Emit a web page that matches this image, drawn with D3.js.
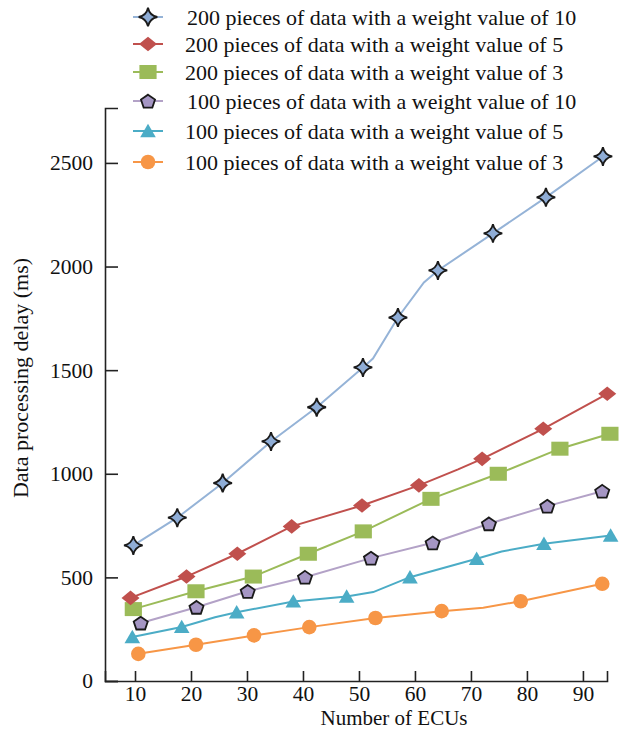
<!DOCTYPE html>
<html>
<head>
<meta charset="utf-8">
<script src="https://cdn.jsdelivr.net/npm/d3@7"></script>
<style>
  body { margin: 0; background: #fff; }
  svg text { font-family: "Times New Roman", "Liberation Serif", serif; fill: #111; }
</style>
</head>
<body>
<div id="chart"></div>
<script>
// x = number of ECUs, y = delay in ms, mark = 1 where a symbol is drawn
let s1x = [9.7, 17.55, 25.66, 34.29, 42.45, 50.71, 52.5, 56.96, 61.6, 64.1, 73.93, 83.39, 93.57];
let s1y = [654, 788, 955, 1156, 1321, 1513, 1556, 1754, 1923, 1981, 2160, 2334, 2531];
let s1m = [1, 1, 1, 1, 1, 1, 0, 1, 0, 1, 1, 1, 1];

let s2x = [9.2, 19.2, 28.27, 37.98, 50.54, 60.71, 67.7, 72.0, 82.91, 94.34];
let s2y = [401, 504, 614, 746, 847, 944, 1021, 1072, 1217, 1386];
let s2m = [1, 1, 1, 1, 1, 1, 0, 1, 1, 1];

let s3x = [9.7, 20.89, 31.13, 40.95, 50.77, 62.86, 74.88, 85.89, 94.82];
let s3y = [347, 433, 504, 614, 722, 879, 1000, 1121, 1193];
let s3m = [1, 1, 1, 1, 1, 1, 1, 1, 1];

let s4x = [11.02, 20.98, 30.13, 40.36, 52.14, 63.16, 73.21, 83.63, 93.45];
let s4y = [280, 356, 433, 501, 593, 667, 759, 844, 916];
let s4m = [1, 1, 1, 1, 1, 1, 1, 1, 1];

let s5x = [9.52, 18.34, 24.29, 28.16, 38.27, 47.8, 52.55, 59.11, 71.02, 75.48, 83.04, 94.95];
let s5y = [212, 261, 308, 332, 384, 408, 429, 501, 590, 625, 662, 702];
let s5m = [1, 1, 0, 1, 1, 1, 0, 1, 1, 0, 1, 1];

let s6x = [10.59, 20.89, 31.25, 41.13, 52.95, 64.77, 72.2, 78.88, 93.45];
let s6y = [131, 175, 220, 260, 304, 337, 353, 385, 469];
let s6m = [1, 1, 1, 1, 1, 1, 0, 1, 1];

let seriesNames = [
  "200 pieces of data with a weight value of 10",
  "200 pieces of data with a weight value of 5",
  "200 pieces of data with a weight value of 3",
  "100 pieces of data with a weight value of 10",
  "100 pieces of data with a weight value of 5",
  "100 pieces of data with a weight value of 3"
];
let xTicks = [10, 20, 30, 40, 50, 60, 70, 80, 90];
let yTicks = [0, 500, 1000, 1500, 2000, 2500];

let width = 635, height = 734;
let serif = "'Times New Roman', 'Liberation Serif', serif";

// marker shapes
function starPath() {
  let r = 9.3, c = 1.6;
  return "M0," + (-r) +
    "Q" + c + "," + (-c) + " " + r + ",0" +
    "Q" + c + "," + c + " 0," + r +
    "Q" + (-c) + "," + c + " " + (-r) + ",0" +
    "Q" + (-c) + "," + (-c) + " 0," + (-r) + "Z";
}
function pentagonPath() {
  let pts = [];
  for (let i = 0; i < 5; i++) {
    let a = i * 2 * Math.PI / 5 - Math.PI / 2;
    pts.push([7.4 * Math.cos(a), 7.1 * Math.sin(a) + 0.8]);
  }
  return "M" + pts.map(p => p.join(",")).join("L") + "Z";
}
let shapes = [
  starPath(),
  "M-9,0L0,-7.3L9,0L0,7.3Z",
  "M-8.6,-7H8.6V7H-8.6Z",
  pentagonPath(),
  "M0,-7.2L7.8,6.2H-7.8Z",
  d3.symbol().type(d3.symbolCircle).size(Math.PI * 7.3 * 7.3)()
];

let series = [
  {x: s1x, y: s1y, m: s1m, line: "#95b3d7", fill: "#8fadd6", stroke: "#1a1a1a"},
  {x: s2x, y: s2y, m: s2m, line: "#c0504d", fill: "#c0504d", stroke: "none"},
  {x: s3x, y: s3y, m: s3m, line: "#9bbb59", fill: "#9bbb59", stroke: "none"},
  {x: s4x, y: s4y, m: s4m, line: "#b3a2c7", fill: "#a596c4", stroke: "#1a1a1a"},
  {x: s5x, y: s5y, m: s5m, line: "#4bacc6", fill: "#4bacc6", stroke: "none"},
  {x: s6x, y: s6y, m: s6m, line: "#f79646", fill: "#f79646", stroke: "none"}
];

let svg = d3.select("#chart").append("svg")
  .attr("width", width)
  .attr("height", height);

let xScale = d3.scaleLinear().domain([4.64, 94.3]).range([105, 607]);
let yScale = d3.scaleLinear().domain([0, 2765]).range([681, 108]);

let xAxis = d3.axisBottom(xScale)
  .tickValues(xTicks)
  .tickFormat(d3.format("d"))
  .tickSizeInner(-10)
  .tickSizeOuter(-10)
  .tickPadding(5);

let yAxis = d3.axisLeft(yScale)
  .tickValues(yTicks)
  .tickFormat(d3.format("d"))
  .tickSizeInner(-13)
  .tickSizeOuter(-13)
  .tickPadding(12);

let gx = svg.append("g")
  .attr("transform", "translate(0,681)")
  .call(xAxis);
let gy = svg.append("g")
  .attr("transform", "translate(105,0)")
  .call(yAxis);

[gx, gy].forEach(g => {
  g.attr("font-family", serif).attr("font-size", 21.5);
  g.selectAll("path, line").attr("stroke", "#222").attr("stroke-width", 1.6);
  g.selectAll("text").attr("fill", "#111");
});

svg.append("text")
  .attr("x", 394)
  .attr("y", 725)
  .attr("text-anchor", "middle")
  .attr("font-size", 21)
  .text("Number of ECUs");

svg.append("text")
  .attr("transform", "translate(28,378) rotate(-90)")
  .attr("text-anchor", "middle")
  .attr("font-size", 22)
  .text("Data processing delay (ms)");

let line = d3.line()
  .x(d => xScale(d[0]))
  .y(d => yScale(d[1]));

// draw from the bottom series up so the stars sit on top
series.slice().reverse().forEach(s => {
  let pts = s.x.map((v, i) => [v, s.y[i], s.m[i]]);
  let idx = series.indexOf(s);
  svg.append("path")
    .datum(pts)
    .attr("fill", "none")
    .attr("stroke", s.line)
    .attr("stroke-width", 2)
    .attr("d", line);

  svg.selectAll(".mk" + idx)
    .data(pts.filter(p => p[2]))
    .enter()
    .append("path")
    .attr("class", "mk" + idx)
    .attr("d", shapes[idx])
    .attr("transform", d => "translate(" + xScale(d[0]) + "," + yScale(d[1]) + ")")
    .attr("fill", s.fill)
    .attr("stroke", s.stroke)
    .attr("stroke-width", 1.8)
    .attr("stroke-linejoin", "miter");
});

// legend
let legendY = [17, 44, 72, 101, 131, 162];
let legend = svg.append("g");
seriesNames.forEach((name, i) => {
  let s = series[i];
  let row = legend.append("g").attr("transform", "translate(0," + legendY[i] + ")");
  row.append("line")
    .attr("x1", 133).attr("x2", 163)
    .attr("stroke", s.line).attr("stroke-width", 2);
  row.append("path")
    .attr("d", shapes[i])
    .attr("transform", "translate(148,0)")
    .attr("fill", s.fill)
    .attr("stroke", s.stroke)
    .attr("stroke-width", 1.8);
  row.append("text")
    .attr("x", name.endsWith("10") ? 187 : 185)
    .attr("y", 8)
    .attr("font-size", 22)
    .text(name);
});
</script>
</body>
</html>
